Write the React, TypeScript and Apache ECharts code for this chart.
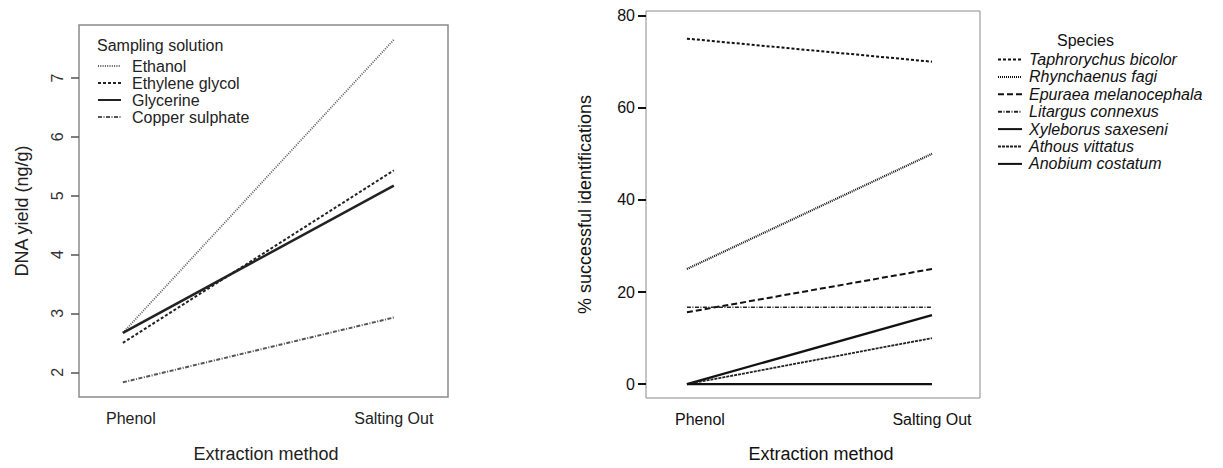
import React, { useEffect, useRef } from "react";
import * as echarts from "echarts";

// ---- Data: left panel (DNA yield) ----
const methods = ["Phenol", "Salting Out"];
const solutions = ["Ethanol", "Ethylene glycol", "Glycerine", "Copper sulphate"];
const ethanol = [2.67, 7.65];
const ethyleneGlycol = [2.5, 5.43];
const glycerine = [2.67, 5.17];
const copperSulphate = [1.83, 2.93];
const yieldTicks = [2, 3, 4, 5, 6, 7];

// ---- Data: right panel (% successful identifications) ----
const species = [
  "Taphrorychus bicolor",
  "Rhynchaenus fagi",
  "Epuraea melanocephala",
  "Litargus connexus",
  "Xyleborus saxeseni",
  "Athous vittatus",
  "Anobium costatum",
];
const taphrorychus = [75, 70];
const rhynchaenus = [25, 50];
const epuraea = [15.6, 25];
const litargus = [16.7, 16.7];
const xyleborus = [0, 15];
const athous = [0, 10];
const anobium = [0, 0];
const percentTicks = [0, 20, 40, 60, 80];

const FONT = "'Liberation Sans', Arial, Helvetica, sans-serif";

const toPoints = (vals: number[]) => vals.map((v, i) => [i + 1, v]);

export default function App() {
  const ref = useRef<HTMLDivElement>(null);

  useEffect(() => {
    if (!ref.current) return;
    const chart = echarts.init(ref.current, undefined, { renderer: "svg" });

    const leftStyles = [
      { color: "#5a5a5a", width: 1.8, type: [1, 1.3] },
      { color: "#222", width: 2, type: [3, 2] },
      { color: "#222", width: 2.5, type: "solid" },
      { color: "#555", width: 2, type: [4, 1.5, 1, 1.5] },
    ];
    const leftVals = [ethanol, ethyleneGlycol, glycerine, copperSulphate];

    const rightStyles = [
      { color: "#111", width: 2, type: [3, 2] },
      { color: "#111", width: 2.2, type: [1, 1] },
      { color: "#111", width: 2, type: [6, 3] },
      { color: "#222", width: 1.6, type: [4, 1.5, 1, 1.5] },
      { color: "#111", width: 2.2, type: "solid" },
      { color: "#222", width: 1.8, type: [3, 1] },
      { color: "#111", width: 2.2, type: "solid" },
    ];
    const rightVals = [taphrorychus, rhynchaenus, epuraea, litargus, xyleborus, athous, anobium];

    const xLabelFormatter = (v: number) => {
      const name = methods[Math.round(v) - 1];
      return Math.round(v) === 1 ? "{p|" + name + "}" : name;
    };

    const option: any = {
      animation: false,
      textStyle: { fontFamily: FONT },
      title: [
        {
          text: "Sampling solution",
          left: 97,
          top: 37,
          padding: 0,
          textStyle: { fontSize: 16, fontWeight: "normal", color: "#222", fontFamily: FONT },
        },
        {
          text: "Species",
          left: 1057,
          top: 32,
          padding: 0,
          textStyle: { fontSize: 16, fontWeight: "normal", color: "#111", fontFamily: FONT },
        },
      ],
      legend: [
        {
          data: solutions,
          orient: "vertical",
          left: 97,
          top: 58,
          padding: 0,
          itemWidth: 23,
          itemHeight: 10,
          itemGap: 1,
          itemStyle: { opacity: 0 },
          textStyle: { fontSize: 16, color: "#222", lineHeight: 16, padding: [0, 0, 0, 6], fontFamily: FONT },
        },
        {
          data: species,
          orient: "vertical",
          left: 997,
          top: 51,
          padding: 0,
          itemWidth: 24,
          itemHeight: 10,
          itemGap: 0.4,
          itemStyle: { opacity: 0 },
          textStyle: {
            fontSize: 16,
            fontStyle: "italic",
            color: "#111",
            lineHeight: 17,
            padding: [0, 0, 0, 2],
            fontFamily: FONT,
          },
        },
      ],
      grid: [
        {
          left: 79,
          top: 25,
          width: 369,
          height: 378,
          show: true,
          borderColor: "#8a8a8a",
          borderWidth: 1.5,
          backgroundColor: "transparent",
        },
        {
          left: 646,
          top: 11,
          width: 334,
          height: 391,
          show: true,
          borderColor: "#8a8a8a",
          borderWidth: 1,
          backgroundColor: "transparent",
        },
      ],
      xAxis: [
        {
          gridIndex: 0,
          type: "value",
          min: 0.838,
          max: 2.2,
          splitLine: { show: false },
          axisLine: { show: false },
          axisTick: { show: false },
          axisLabel: {
            customValues: [1, 2],
            formatter: xLabelFormatter,
            fontSize: 16,
            color: "#222",
            margin: 13,
            fontFamily: FONT,
            rich: { p: { fontSize: 16, color: "#222", padding: [0, 0, 0, 16], fontFamily: FONT } },
          },
          name: "Extraction method",
          nameLocation: "middle",
          nameGap: 48,
          nameTextStyle: { fontSize: 18, color: "#222", padding: [0, 0, 0, 5], fontFamily: FONT },
        },
        {
          gridIndex: 1,
          type: "value",
          min: 0.833,
          max: 2.196,
          splitLine: { show: false },
          axisLine: { show: false },
          axisTick: { show: false },
          axisLabel: {
            customValues: [1, 2],
            formatter: xLabelFormatter,
            fontSize: 16,
            color: "#111",
            margin: 13,
            fontFamily: FONT,
            rich: { p: { fontSize: 16, color: "#111", padding: [0, 0, 0, 26], fontFamily: FONT } },
          },
          name: "Extraction method",
          nameLocation: "middle",
          nameGap: 47,
          nameTextStyle: { fontSize: 18, color: "#111", padding: [0, 0, 0, 16], fontFamily: FONT },
        },
      ],
      yAxis: [
        {
          gridIndex: 0,
          type: "value",
          min: 1.58,
          max: 7.9,
          splitLine: { show: false },
          axisLine: { show: false },
          axisTick: {
            show: true,
            customValues: yieldTicks,
            length: 8,
            lineStyle: { color: "#555", width: 1.5 },
          },
          axisLabel: {
            customValues: yieldTicks,
            rotate: 90,
            fontSize: 16,
            color: "#333",
            margin: 14,
            fontFamily: FONT,
          },
          name: "DNA yield (ng/g)",
          nameLocation: "middle",
          nameGap: 48,
          nameTextStyle: { fontSize: 18, color: "#222", fontFamily: FONT },
        },
        {
          gridIndex: 1,
          type: "value",
          min: -3,
          max: 81,
          splitLine: { show: false },
          axisLine: { show: false },
          axisTick: {
            show: true,
            customValues: percentTicks,
            length: 8,
            lineStyle: { color: "#111", width: 2 },
          },
          axisLabel: {
            customValues: percentTicks,
            fontSize: 16,
            color: "#111",
            margin: 11,
            fontFamily: FONT,
          },
          name: "% successful identifications",
          nameLocation: "middle",
          nameGap: 52,
          nameTextStyle: { fontSize: 18, color: "#111", fontFamily: FONT },
        },
      ],
      series: [
        ...solutions.map((name, i) => ({
          name,
          type: "line",
          xAxisIndex: 0,
          yAxisIndex: 0,
          data: toPoints(leftVals[i]),
          symbol: "none",
          color: leftStyles[i].color,
          lineStyle: leftStyles[i],
          z: i === 2 ? 5 : 3,
        })),
        ...species.map((name, i) => ({
          name,
          type: "line",
          xAxisIndex: 1,
          yAxisIndex: 1,
          data: toPoints(rightVals[i]),
          symbol: "none",
          color: rightStyles[i].color,
          lineStyle: rightStyles[i],
        })),
      ],
    };

    chart.setOption(option);
    return () => chart.dispose();
  }, []);

  return (
    <div
      ref={ref}
      style={{ position: "fixed", left: 0, top: 0, width: 1223, height: 468, background: "#fff" }}
    />
  );
}
